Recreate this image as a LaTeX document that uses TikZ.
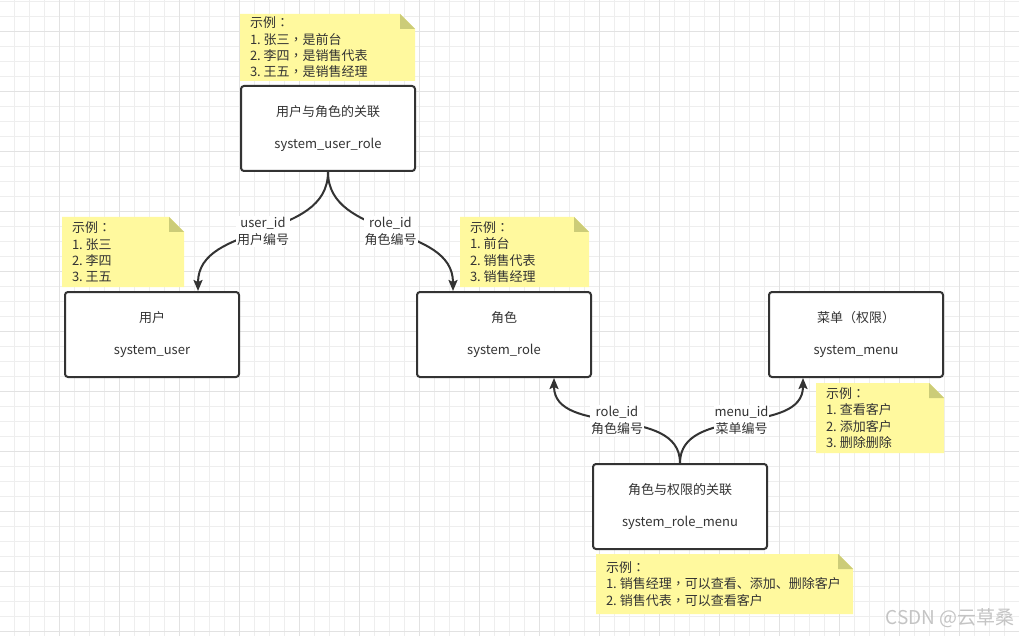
\documentclass[tikz,border=0pt]{standalone}
\usepackage{fontspec}
\setmainfont{Noto Sans CJK SC}
\newfontfamily\tcfont{Noto Sans CJK TC}
\newcommand\cjkcomma{{\tcfont ，}}
\newcommand\cjkcolon{{\tcfont ：}}
\usetikzlibrary{arrows.meta}
\definecolor{ink}{HTML}{333333}
\definecolor{gridminor}{HTML}{EEEEEE}
\definecolor{gridmajor}{HTML}{E2E2E2}
\definecolor{notefill}{HTML}{FFF99E}
\definecolor{foldfill}{HTML}{CCCC78}
\definecolor{wmark}{HTML}{C4C4C4}
\pgfdeclarelayer{bgzero}
\pgfdeclarelayer{bgone}
\pgfsetlayers{bgzero,bgone,main}
% #1 node name, #2 width of the note
\newcommand\notebg[2]{%
  \begin{pgfonlayer}{bgone}
  \fill[notefill] (#1.north west) -- ([xshift=#2pt-15pt]#1.north west) -- ([xshift=#2pt,yshift=-15pt]#1.north west) -- ([xshift=#2pt]#1.south west) -- (#1.south west) -- cycle;
  \fill[foldfill] ([xshift=#2pt-15pt]#1.north west) -- ([xshift=#2pt-15pt,yshift=-15pt]#1.north west) -- ([xshift=#2pt,yshift=-15pt]#1.north west) -- cycle;
  \end{pgfonlayer}}
\tikzset{
  entity/.style={draw=ink, line width=2pt, rounded corners=3pt, fill=white,
    minimum width=174pt, minimum height=85pt, align=center, inner sep=0pt,
    text=ink, font=\fontsize{13}{32}\selectfont},
  note/.style={anchor=north west, inner xsep=10pt, inner ysep=0pt, outer sep=0pt,
    align=left, text=ink, font=\frenchspacing\fontsize{13}{16.3}\selectfont},
  conn/.style={draw=ink, line width=2pt, -{Stealth[length=11pt,width=9pt,inset=2pt]}},
  lbl/.style={fill=white, inner sep=1pt, align=center, text=ink,
    font=\fontsize{13}{17}\selectfont},
}
\begin{document}
\begin{tikzpicture}[x=1pt,y=-1pt]
\useasboundingbox (0,0) rectangle (1019,636);
\begin{pgfonlayer}{bgzero}
  \fill[white] (0,0) rectangle (1019,636);
  \foreach \x in {14,29,...,1019} \draw[gridminor, line width=1pt] (\x,0) -- (\x,636);
  \foreach \y in {1.7,16.7,...,636} \draw[gridminor, line width=1pt] (0,\y) -- (1019,\y);
  \foreach \x in {59,119,...,1019} \draw[gridmajor, line width=1pt] (\x,0) -- (\x,636);
  \foreach \y in {31.7,91.7,...,636} \draw[gridmajor, line width=1pt] (0,\y) -- (1019,\y);
\end{pgfonlayer}

% entities
\node[entity] (urole) at (328,128.5) {用户与角色的关联\\system\_user\_role};
\node[entity] (user)  at (152,334.5) {用户\\system\_user};
\node[entity] (role)  at (504,334.5) {角色\\system\_role};
\node[entity] (menu)  at (856,334.5) {菜单（权限）\\system\_menu};
\node[entity] (rm)    at (680,506.5) {角色与权限的关联\\system\_role\_menu};

% notes
\node[note, minimum height=67pt] (n1) at (240,14)
  {示例\cjkcolon\\1. 张三\cjkcomma 是前台\\2. 李四\cjkcomma 是销售代表\\3. 王五\cjkcomma 是销售经理};
\notebg{n1}{175}
\node[note, minimum height=70pt] (nuser) at (62,217)
  {示例\cjkcolon\\1. 张三\\2. 李四\\3. 王五};
\notebg{nuser}{122}
\node[note, minimum height=70pt] (nrole) at (460,217)
  {示例\cjkcolon\\1. 前台\\2. 销售代表\\3. 销售经理};
\notebg{nrole}{129}
\node[note, minimum height=70pt] (nmenu) at (816,383)
  {示例\cjkcolon\\1. 查看客户\\2. 添加客户\\3. 删除删除};
\notebg{nmenu}{128}
\node[note, minimum height=60pt] (nrm) at (596,554)
  {示例\cjkcolon\\1. 销售经理\cjkcomma 可以查看、添加、删除客户\\2. 销售代表\cjkcomma 可以查看客户};
\notebg{nrm}{257}

% connectors
\draw[conn] (urole.south) to[out=-90,in=90] node[lbl] {user\_id\\用户编号} ([xshift=46pt]user.north);
\draw[conn] (urole.south) to[out=-90,in=90] node[lbl] {role\_id\\角色编号} ([xshift=-51pt]role.north);
\draw[conn] (rm.north) to[out=90,in=-90] node[lbl] {role\_id\\角色编号} ([xshift=50pt]role.south);
\draw[conn] (rm.north) to[out=90,in=-90] node[lbl] {menu\_id\\菜单编号} ([xshift=-53pt]menu.south);

% watermark
\node[anchor=east, text=wmark, font=\fontsize{19}{19}\selectfont, inner sep=0pt] (wm) at (1015,618) {CSDN @云草桑};
\end{tikzpicture}
\end{document}
